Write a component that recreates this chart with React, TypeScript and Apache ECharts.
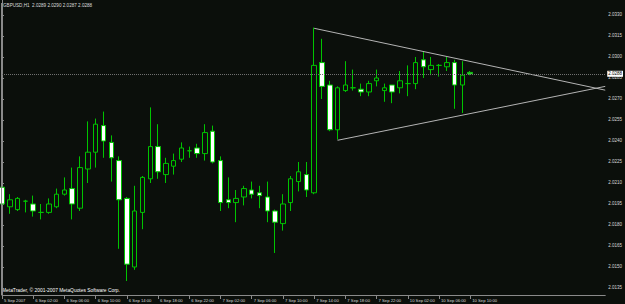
import React, { useEffect, useRef } from "react";
import * as echarts from "echarts";

// Bar index (hourly, first bar = 5 Sep 2007 22:00)
const opens = [
  2.0207, 2.0193, 2.0191, 2.0197, 2.0195, 2.0189, 2.0189, 2.0193, 2.0202, 2.0206,
  2.0192, 2.0220, 2.0232, 2.0251, 2.0239, 2.0226, 2.0199, 2.0150, 2.0189, 2.0213,
  2.0236, 2.0216, 2.0222, 2.0227, 2.0233, 2.0235, 2.0231, 2.0247, 2.0226, 2.0198,
  2.0196, 2.0200, 2.0205, 2.0203, 2.0200, 2.0190, 2.0181, 2.0196, 2.0211, 2.0216,
  2.0203, 2.0296, 2.0280, 2.0248, 2.0276, 2.0278, 2.0277, 2.0275, 2.0283, 2.0276,
  2.0280, 2.0278, 2.0281, 2.0281, 2.0298, 2.0291, 2.0294, 2.0293, 2.0296, 2.0280,
  2.0289,
];
const closes = [
  2.0195, 2.0198, 2.0199, 2.0197, 2.0190, 2.0189, 2.0195, 2.0202, 2.0205, 2.0195,
  2.0221, 2.0232, 2.0252, 2.0240, 2.0228, 2.0198, 2.0152, 2.0190, 2.0214, 2.0236,
  2.0218, 2.0224, 2.0226, 2.0235, 2.0233, 2.0231, 2.0246, 2.0225, 2.0196, 2.0196,
  2.0199, 2.0206, 2.0202, 2.0201, 2.0190, 2.0182, 2.0195, 2.0213, 2.0218, 2.0205,
  2.0294, 2.0279, 2.0248, 2.0278, 2.0280, 2.0278, 2.0275, 2.0281, 2.0285, 2.0278,
  2.0275, 2.0283, 2.0281, 2.0296, 2.0293, 2.0294, 2.0294, 2.0296, 2.0280, 2.0287,
  2.0288,
];
const lows = [
  2.0190, 2.0188, 2.0190, 2.0189, 2.0186, 2.0184, 2.0188, 2.0192, 2.0201, 2.0184,
  2.0190, 2.0210, 2.0221, 2.0228, 2.0211, 2.0163, 2.0140, 2.0148, 2.0177, 2.0210,
  2.0213, 2.0210, 2.0216, 2.0225, 2.0228, 2.0228, 2.0226, 2.0224, 2.0190, 2.0192,
  2.0182, 2.0194, 2.0199, 2.0192, 2.0182, 2.0160, 2.0176, 2.0190, 2.0204, 2.0200,
  2.0202, 2.0270, 2.0247, 2.0241, 2.0275, 2.0276, 2.0272, 2.0272, 2.0279, 2.0268,
  2.0267, 2.0274, 2.0272, 2.0277, 2.0285, 2.0287, 2.0286, 2.0290, 2.0263, 2.0260,
  2.0287,
];
const highs = [
  2.0208, 2.0202, 2.0200, 2.0198, 2.0201, 2.0195, 2.0199, 2.0206, 2.0214, 2.0221,
  2.0229, 2.0254, 2.0256, 2.0261, 2.0244, 2.0229, 2.0200, 2.0208, 2.0215, 2.0264,
  2.0252, 2.0228, 2.0231, 2.0239, 2.0236, 2.0238, 2.0252, 2.0251, 2.0229, 2.0214,
  2.0205, 2.0208, 2.0211, 2.0208, 2.0211, 2.0191, 2.0202, 2.0215, 2.0225, 2.0225,
  2.0321, 2.0313, 2.0283, 2.0279, 2.0297, 2.0291, 2.0281, 2.0283, 2.0291, 2.0281,
  2.0280, 2.0290, 2.0294, 2.0300, 2.0304, 2.0300, 2.0295, 2.0300, 2.0298, 2.0297,
  2.0290,
];

const xTickIndex = [0, 4, 8, 12, 16, 20, 24, 28, 32, 36, 40, 44, 48, 52, 56, 60];
const xTickLabels = [
  "5 Sep 2007", "6 Sep 02:00", "6 Sep 06:00", "6 Sep 10:00", "6 Sep 14:00",
  "6 Sep 18:00", "6 Sep 22:00", "7 Sep 02:00", "7 Sep 06:00", "7 Sep 10:00",
  "7 Sep 14:00", "7 Sep 18:00", "7 Sep 22:00", "10 Sep 02:00", "10 Sep 06:00",
  "10 Sep 10:00",
];
const yTicks = [
  2.0135, 2.0150, 2.0165, 2.0180, 2.0195, 2.0210, 2.0225, 2.0240, 2.0255,
  2.0270, 2.0285, 2.0300, 2.0315, 2.0330,
];
const bidPrice = 2.0288;
const upperTrend = [[40, 2.03205], [77.3, 2.02763]];
const lowerTrend = [[43, 2.02405], [77.3, 2.0279]];
const titleText = "GBPUSD,H1  2.0289 2.0290 2.0287 2.0288";
const copyrightText = "MetaTrader, \u00A9 2001-2007 MetaQuotes Software Corp.";

const BG = "#0b0f0b";
const GREEN = "#00c400";
const FONT = "Liberation Sans";

export default function App() {
  const ref = useRef<HTMLDivElement>(null);
  useEffect(() => {
    if (!ref.current) return;
    const chart = echarts.init(ref.current, undefined, { renderer: "svg" });
    const candles = opens.map((o, i) => [i, o, closes[i], lows[i], highs[i]]);
    chart.setOption({
      animation: false,
      backgroundColor: BG,
      grid: { left: 2, right: 18, top: 0, bottom: 9, containLabel: false },
      xAxis: {
        type: "value",
        min: 0,
        max: 77.3,
        splitLine: { show: false },
        axisLine: { show: true, lineStyle: { color: "#8a8a8a", width: 1 } },
        axisTick: {
          show: true,
          customValues: xTickIndex,
          length: 4,
          lineStyle: { color: "#8a8a8a" },
        },
        axisLabel: {
          customValues: xTickIndex,
          formatter: (v: number) => {
            const k = xTickIndex.indexOf(Math.round(v));
            return k >= 0 ? xTickLabels[k] : "";
          },
          align: "left",
          verticalAlign: "middle",
          margin: 5,
          padding: [0, 0, 0, 2],
          color: "#d8d8d8",
          fontSize: 4.2,
          fontFamily: FONT,
        },
      },
      yAxis: {
        type: "value",
        position: "right",
        min: 2.013,
        max: 2.03407,
        scale: true,
        splitLine: { show: false },
        axisLine: { show: true, lineStyle: { color: "#8a8a8a", width: 1 } },
        axisTick: {
          show: true,
          customValues: yTicks,
          length: 2,
          lineStyle: { color: "#8a8a8a" },
        },
        axisLabel: {
          customValues: yTicks,
          formatter: (v: number) => v.toFixed(4),
          margin: 3,
          color: "#d8d8d8",
          fontSize: 4.5,
          fontFamily: FONT,
        },
      },
      series: [
        {
          type: "candlestick",
          data: candles,
          encode: { x: 0, y: [1, 2, 3, 4] },
          barWidth: 5,
          clip: false,
          itemStyle: {
            color: BG,
            color0: "#ffffff",
            borderColor: GREEN,
            borderColor0: GREEN,
            borderWidth: 1,
          },
          markLine: {
            silent: true,
            symbol: "none",
            precision: 4,
            data: [{ yAxis: bidPrice }],
            lineStyle: { type: "dotted", color: "#707070", width: 1 },
            label: {
              show: true,
              position: "end",
              distance: 2,
              formatter: bidPrice.toFixed(4),
              backgroundColor: "#ffffff",
              color: "#000000",
              fontSize: 4.5,
              fontFamily: FONT,
              padding: [1, 1, 0, 1],
            },
          },
        },
        {
          type: "line",
          data: upperTrend,
          showSymbol: false,
          silent: true,
          lineStyle: { color: "#b4b4b4", width: 1 },
        },
        {
          type: "line",
          data: lowerTrend,
          showSymbol: false,
          silent: true,
          lineStyle: { color: "#b4b4b4", width: 1 },
        },
      ],
      graphic: [
        {
          type: "line",
          shape: { x1: 1.5, y1: 3, x2: 1.5, y2: 295 },
          style: { stroke: "#8a8a8a", lineWidth: 1 },
          z: 10,
        },
        {
          type: "text",
          left: 3,
          top: 3,
          style: {
            text: titleText,
            fill: "#dcdcdc",
            fontSize: 4.6,
            fontFamily: FONT,
          },
        },
        {
          type: "text",
          left: 2,
          top: 288,
          style: {
            text: copyrightText,
            fill: "#ffffff",
            fontSize: 4.9,
            fontFamily: FONT,
          },
        },
      ],
    });
    return () => chart.dispose();
  }, []);
  return (
    <div
      ref={ref}
      style={{ position: "fixed", left: 0, top: 0, width: 625, height: 304 }}
    />
  );
}
